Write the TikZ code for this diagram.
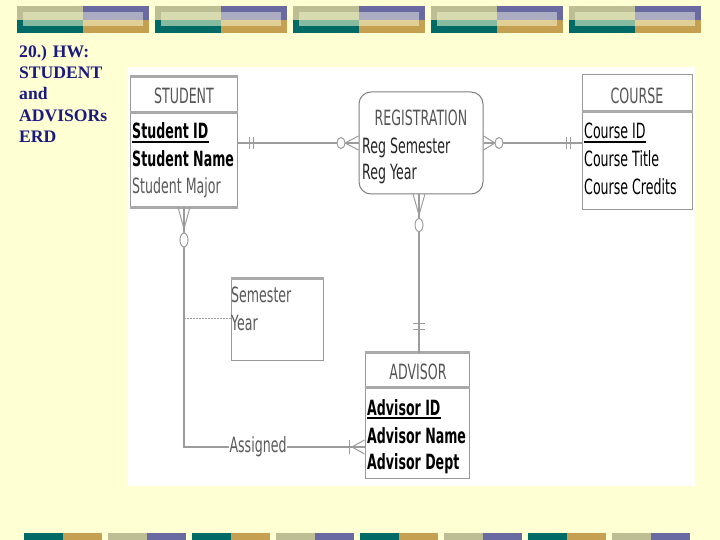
\documentclass[tikz,border=0pt]{standalone}
\usepackage{fontspec}
\setmainfont{Liberation Serif}
\newfontfamily\erdfont[FakeStretch=0.6]{DejaVu Sans}
\usetikzlibrary{calc}
\definecolor{bgyel}{HTML}{FFFFD4}
\definecolor{navy}{HTML}{1A1A80}
\definecolor{khaki}{HTML}{BEBE94}
\definecolor{dteal}{HTML}{006B66}
\definecolor{lcream}{HTML}{D8DAB0}
\definecolor{lteal}{HTML}{86BBA0}
\definecolor{purp}{HTML}{6A6AA2}
\definecolor{lav}{HTML}{ABABC2}
\definecolor{lgold}{HTML}{E0D096}
\definecolor{gold}{HTML}{C4A050}
\definecolor{boxline}{HTML}{999999}
\definecolor{rulegray}{HTML}{AAAAAA}
\definecolor{hdrgray}{HTML}{555555}
\definecolor{conngray}{HTML}{9C9C9C}
\definecolor{attrgray}{HTML}{5A5A5A}
\begin{document}
\begin{tikzpicture}[x=1pt,y=-1pt,
  titletext/.style={anchor=base west, inner sep=0pt, text=navy,
    font=\bfseries\fontsize{17.6}{17.6}\selectfont},
  ebox/.style={draw=boxline, line width=1pt, fill=white, inner sep=0pt},
  hdr/.style={anchor=base, inner sep=0pt, text=hdrgray,
    font=\erdfont\fontsize{21}{21}\selectfont},
  attr/.style={anchor=base west, inner sep=0pt, text=black,
    font=\erdfont\fontsize{21}{21}\selectfont},
  gattr/.style={attr, text=attrgray},
  battr/.style={attr, font=\erdfont\bfseries\fontsize{21}{21}\selectfont},
  thickrule/.style={draw=rulegray, line width=3pt},
  uline/.style={draw=black, line width=1.8pt},
  conn/.style={draw=conngray, line width=1.5pt},
  foot/.style={draw=conngray, line width=1pt},
  optc/.style={draw=conngray, line width=1pt, fill=white},
  dashline/.style={draw=conngray, line width=1pt, dash pattern=on 2pt off 1pt},
  lbl/.style={inner sep=1pt, fill=white, text=attrgray,
    font=\erdfont\fontsize{21}{21}\selectfont}
]
\useasboundingbox (0,0) rectangle (720,540);
\fill[bgyel] (0,0) rectangle (720,540);

% top banner
\foreach \x in {17,155,293,431,569}{
  \fill[khaki] (\x,6) rectangle ++(66,14);
  \fill[dteal] (\x,20) rectangle ++(66,13);
  \fill[lcream] (\x+6,12) rectangle ++(60,8);
  \fill[lteal] (\x+6,20) rectangle ++(60,6);
  \fill[purp] (\x+66,6) rectangle ++(66,14);
  \fill[gold] (\x+66,20) rectangle ++(66,13);
  \fill[lav] (\x+66,12) rectangle ++(60,8);
  \fill[lgold] (\x+66,20) rectangle ++(60,6);
}
% bottom banner
\foreach \x in {24,192,360,528}{
  \fill[dteal] (\x,533) rectangle ++(39,7);
  \fill[gold] (\x+39,533) rectangle ++(39,7);
}
\foreach \x in {108,276,444,612}{
  \fill[khaki] (\x,533) rectangle ++(39,7);
  \fill[purp] (\x+39,533) rectangle ++(39,7);
}

% title
\node[titletext] (t1) at (19,58) {20.) HW:};
\node[titletext] (t2) at (19,79) {STUDENT};
\node[titletext] (t3) at (19,100) {and};
\node[titletext] (t4) at (19,122) {ADVISORs};
\node[titletext] (t5) at (19,143) {ERD};

% white picture area
\fill[white] (127,67) rectangle (695,486);

% entity boxes
\node[ebox, minimum width=107pt, minimum height=130pt] (stu) at (183.5,142) {};
\node[ebox, rounded corners=12pt, draw=gray, minimum width=124pt, minimum height=102pt] (reg) at (421,143) {};
\node[ebox, minimum width=110pt, minimum height=135pt] (cou) at (637,142.5) {};
\node[ebox, minimum width=92pt, minimum height=81pt] (sem) at (277,319.5) {};
\node[ebox, minimum width=104pt, minimum height=125pt] (adv) at (417,415.5) {};

% box rules
\draw[thickrule] (stu.north west) -- (stu.north east);
\draw[thickrule] ($(stu.north west)+(0,36)$) -- ($(stu.north east)+(0,36)$);
\draw[thickrule] (stu.south west) -- (stu.south east);
\draw[thickrule] ($(cou.north west)+(0,37)$) -- ($(cou.north east)+(0,37)$);
\draw[thickrule] (sem.north west) -- (sem.north east);
\draw[thickrule] (adv.north west) -- (adv.north east);
\draw[thickrule] ($(adv.north west)+(0,35)$) -- ($(adv.north east)+(0,35)$);

% STUDENT texts
\node[hdr] (stuh) at (184,104) {STUDENT};
\node[battr] (sid) at (132,139) {Student ID};
\node[battr] (snm) at (132,167) {Student Name};
\node[gattr] (smj) at (132,194) {Student Major};
\draw[uline] ($(sid.base west)+(0,3)$) -- ($(sid.base east)+(0,3)$);

% REGISTRATION texts
\node[hdr] (regh) at (421,126) {REGISTRATION};
\node[attr, text=black!85] (rsm) at (362,154) {Reg Semester};
\node[attr, text=black!85] (ryr) at (362,180) {Reg Year};

% COURSE texts
\node[hdr] (couh) at (637,104) {COURSE};
\node[attr] (cid) at (584,139) {Course ID};
\node[attr] (ctt) at (584,167) {Course Title};
\node[attr] (ccr) at (584,195) {Course Credits};
\draw[uline] ($(cid.base west)+(0,3)$) -- ($(cid.base east)+(0,3)$);

% Semester / Year
\node[gattr] (ssm) at (231,302) {Semester};
\node[gattr] (syr) at (231,330) {Year};

% ADVISOR texts
\node[hdr] (advh) at (418,379) {ADVISOR};
\node[battr] (aid) at (367,415) {Advisor ID};
\node[battr] (anm) at (367,443) {Advisor Name};
\node[battr] (adp) at (367,469) {Advisor Dept};
\draw[uline] ($(aid.base west)+(0,3)$) -- ($(aid.base east)+(0,3)$);

% STUDENT -- REGISTRATION
\draw[conn] (stu.east |- reg.west) -- (reg.west);
\draw[foot] (249,137) -- (249,149);
\draw[foot] (253,137) -- (253,149);
\draw[foot] (345,143) -- (reg.west |- 0,136);
\draw[foot] (345,143) -- (reg.west);
\draw[foot] (345,143) -- (reg.west |- 0,150);
\draw[optc] (341,143) ellipse [x radius=4, y radius=5.5];

% REGISTRATION -- COURSE
\draw[conn] (reg.east) -- (cou.west |- reg.east);
\draw[foot] (reg.east |- 0,136) -- (495,143);
\draw[foot] (reg.east |- 0,150) -- (495,143);
\draw[optc] (499,143) ellipse [x radius=4, y radius=5.5];
\draw[foot] (566,137) -- (566,149);
\draw[foot] (570,137) -- (570,149);

% STUDENT -- ADVISOR (Assigned)
\coordinate (bend) at (184,447);
\draw[conn] (stu.south -| bend) -- (bend) -- (bend -| adv.west);
\draw[foot] (178,207) -- (184,229);
\draw[foot] (190,207) -- (184,229);
\draw[optc] (184,240) ellipse [x radius=4, y radius=7];
\coordinate (dj) at (184,318);
\draw[dashline] (dj) -- (dj -| sem.west);
\node[lbl] (asg) at (258,447) {Assigned};
\draw[foot] (349,440) -- (349,454);
\draw[foot] (352,447) -- (adv.west |- 0,440);
\draw[foot] (352,447) -- (adv.west |- 0,454);

% REGISTRATION -- ADVISOR
\coordinate (rv) at (419,194);
\draw[conn] (rv) -- (rv |- adv.north);
\draw[foot] (413,194) -- (419,215);
\draw[foot] (425,194) -- (419,215);
\draw[optc] (419,225) ellipse [x radius=4, y radius=6.5];
\draw[foot] (413,323) -- (425,323);
\draw[foot] (413,329) -- (425,329);
\end{tikzpicture}
\end{document}
